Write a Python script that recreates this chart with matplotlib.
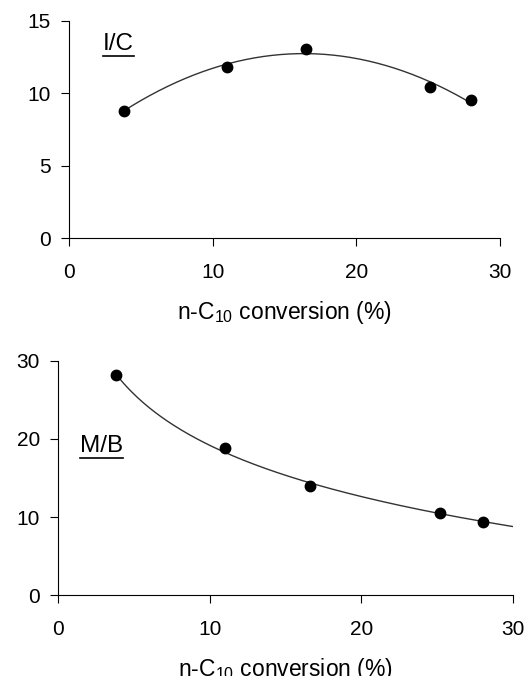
import numpy as np
import matplotlib
matplotlib.use("Agg")
import matplotlib.pyplot as plt
from matplotlib.lines import Line2D

plt.rcParams['font.family'] = ['Liberation Sans', 'DejaVu Sans']
plt.rcParams['mathtext.fontset'] = 'custom'
plt.rcParams['mathtext.rm'] = 'Liberation Sans'
plt.rcParams['mathtext.it'] = 'Liberation Sans'
plt.rcParams['mathtext.bf'] = 'Liberation Sans'

# Data
conv_ic = [3.8, 11.0, 16.5, 25.1, 28.0]
ic_ratio = [8.8, 11.8, 13.05, 10.45, 9.5]
conv_mb = [3.8, 11.0, 16.6, 25.2, 28.05]
mb_ratio = [28.2, 18.8, 14.0, 10.5, 9.4]
xticks = [0, 10, 20, 30]
yticks_ic = [0, 5, 10, 15]
yticks_mb = [0, 10, 20, 30]
xlabel = 'n-C$_{10}$ conversion (%)'

W, H = 528, 676
fig = plt.figure(figsize=(W / 100, H / 100), dpi=100)

def px_rect(l, t, r, b):
    return [l / W, 1 - b / H, (r - l) / W, (b - t) / H]

ax1 = fig.add_axes(px_rect(69, 20.7, 500, 238))
ax2 = fig.add_axes(px_rect(58, 360.7, 512.7, 595.3))

def style(ax, yt, ymax):
    ax.set_xlim(0, 30)
    ax.set_ylim(0, ymax)
    ax.set_xticks(xticks)
    ax.set_yticks(yt)
    for s in ['top', 'right']:
        ax.spines[s].set_visible(False)
    for s in ['left', 'bottom']:
        ax.spines[s].set_linewidth(0.8)
        ax.spines[s].set_color('black')
    ax.tick_params(axis='both', direction='out', length=6, width=0.8, labelsize=15, colors='black')
    ax.tick_params(axis='x', pad=12)
    ax.tick_params(axis='y', pad=7)
    ax.set_xlabel(xlabel, fontsize=16.5, labelpad=12)
    ax.patch.set_alpha(0)

style(ax1, yticks_ic, 15)
style(ax2, yticks_mb, 30)

# Trendlines fitted from the data (polynomial for I/C, logarithmic for M/B)
c1 = np.polyfit(conv_ic, ic_ratio, 2)
xs1 = np.linspace(min(conv_ic), max(conv_ic), 200)
ax1.plot(xs1, np.polyval(c1, xs1), color='#333333', lw=1.0, zorder=2)
ax1.plot(conv_ic, ic_ratio, 'o', color='black', ms=7.5, zorder=3, clip_on=False)

c2 = np.polyfit(np.log(conv_mb), mb_ratio, 1)
xs2 = np.linspace(min(conv_mb), 30, 200)
ax2.plot(xs2, np.polyval(c2, np.log(xs2)), color='#333333', lw=1.0, zorder=2)
ax2.plot(conv_mb, mb_ratio, 'o', color='black', ms=7.5, zorder=3, clip_on=False)

# Underlined labels
fig.canvas.draw()
r = fig.canvas.get_renderer()
for txt, xl, yb, uy in [('I/C', 103, 50, 56), ('M/B', 80, 452, 458)]:
    t = fig.text(xl / W, 1 - yb / H, txt, fontsize=17.5, va='baseline', ha='left')
    bb = t.get_window_extent(renderer=r)
    fig.add_artist(Line2D([bb.x0 / W, bb.x1 / W], [1 - uy / H, 1 - uy / H],
                          transform=fig.transFigure, color='black', lw=1.2))

fig.savefig('out.png', dpi=100)
